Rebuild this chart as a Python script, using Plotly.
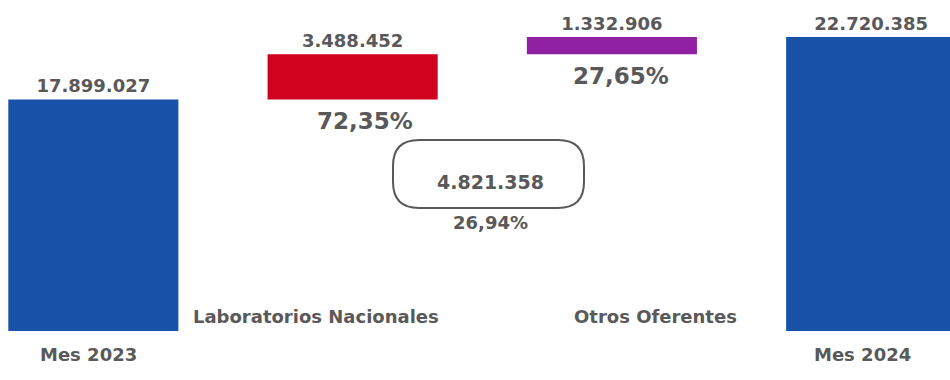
import plotly.graph_objects as go

# ---- data ----
categories = ["Mes 2023", "Laboratorios Nacionales", "Otros Oferentes", "Mes 2024"]
values = [17899027, 3488452, 1332906, 22720385]
kinds = ["total", "relative", "relative", "total"]
colors = ["#1953A9", "#D0021E", "#9121A3", "#1953A9"]

# bases of the floating bars (waterfall)
bases = []
running = 0
for v, k in zip(values, kinds):
    if k == "total":
        bases.append(0)
        running = v
    else:
        bases.append(running)
        running += v

change = values[1] + values[2]
shares = [values[1] / change, values[2] / change]
growth = change / values[0]


def fmt_int(n):
    return f"{n:,}".replace(",", ".")


def fmt_pct(p):
    return f"{p * 100:.2f}".replace(".", ",") + "%"


W, H = 950, 380
MB = 49
PH = H - MB
GRAY = "#595959"
FONT = "DejaVu Sans"


def px(x):
    return x / W


def py(y):
    return (PH - y) / PH


fig = go.Figure()
fig.add_trace(go.Bar(
    x=categories, y=values, base=bases,
    marker=dict(color=colors, line=dict(width=0)),
    width=0.656,
    text=[fmt_int(v) for v in values],
    textposition="outside",
    textfont=dict(family=FONT, size=18, color=GRAY, weight="bold"),
    constraintext="none",
    cliponaxis=False,
    hoverinfo="skip",
))

annotations = []
# percentage shares under the floating bars
for i, p, xs in zip([1, 2], shares, [12, 9]):
    annotations.append(dict(
        x=categories[i], y=bases[i], xref="x", yref="y",
        text=fmt_pct(p), showarrow=False, xanchor="center", yanchor="top",
        yshift=-7, xshift=xs,
        font=dict(family=FONT, size=23, color=GRAY, weight="bold"),
    ))

# total change box
annotations.append(dict(
    x=px(490), y=py(182), xref="paper", yref="paper",
    xanchor="center", yanchor="middle",
    text=fmt_int(change), showarrow=False,
    font=dict(family=FONT, size=19, color=GRAY, weight="bold"),
))
annotations.append(dict(
    x=px(490), y=py(222), xref="paper", yref="paper",
    xanchor="center", yanchor="middle",
    text=fmt_pct(growth), showarrow=False,
    font=dict(family=FONT, size=18, color=GRAY, weight="bold"),
))

# category labels
label_pos = [(88, 354), (316, 316), (655, 316), (862, 354)]
for c, (lx, ly) in zip(categories, label_pos):
    annotations.append(dict(
        x=px(lx), y=py(ly), xref="paper", yref="paper",
        xanchor="center", yanchor="middle",
        text=c, showarrow=False,
        font=dict(family=FONT, size=18, color=GRAY, weight="bold"),
    ))

hw, hh, r = 95.5, 34, 26
path = (f"M {-hw + r},{hh} L {hw - r},{hh} Q {hw},{hh} {hw},{hh - r} "
        f"L {hw},{-hh + r} Q {hw},{-hh} {hw - r},{-hh} "
        f"L {-hw + r},{-hh} Q {-hw},{-hh} {-hw},{-hh + r} "
        f"L {-hw},{hh - r} Q {-hw},{hh} {-hw + r},{hh} Z")

fig.update_layout(
    width=W, height=H,
    margin=dict(l=0, r=0, t=0, b=MB),
    paper_bgcolor="white", plot_bgcolor="white",
    showlegend=False,
    separators=",.",
    xaxis=dict(type="category", range=[-0.36, 3.304], visible=False),
    yaxis=dict(range=[0, values[3] * 1.1259], visible=False),
    annotations=annotations,
    shapes=[dict(
        type="path", path=path,
        xref="paper", yref="paper",
        xsizemode="pixel", ysizemode="pixel",
        xanchor=px(488.5), yanchor=py(174),
        line=dict(color=GRAY, width=2),
        fillcolor="rgba(0,0,0,0)",
    )],
)

fig.write_html("out.html",
               config={"displayModeBar": False},
               post_script="document.body.style.margin='0px';document.body.style.padding='0px';")
